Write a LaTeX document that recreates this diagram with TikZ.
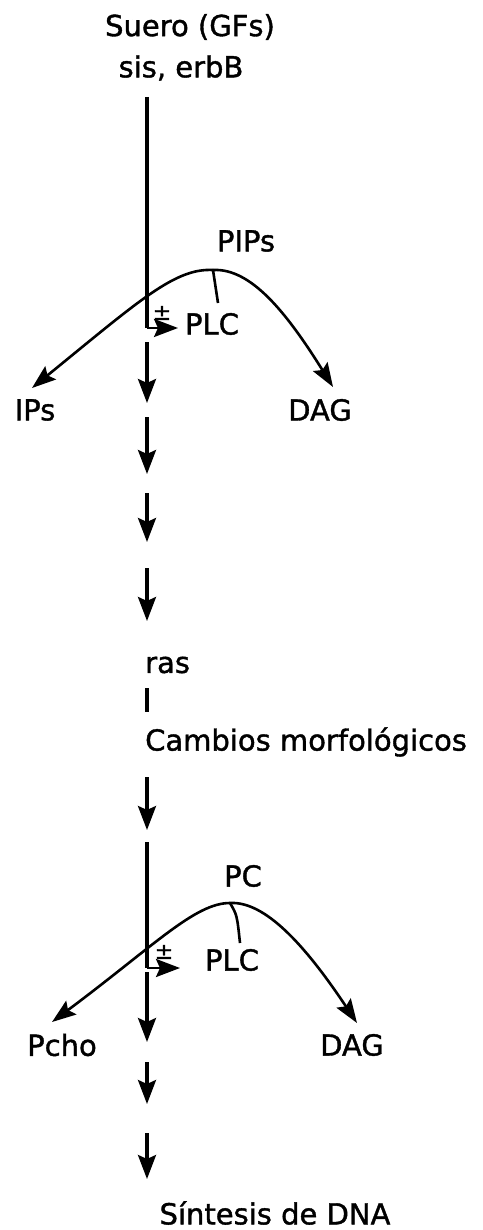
\documentclass[tikz,border=0pt]{standalone}
\usepackage{fontspec}
\setmainfont{DejaVu Sans}
\newfontfamily\heavy{DejaVu Sans}[FakeBold=1.3]
\usetikzlibrary{arrows.meta}
\begin{document}
\begin{tikzpicture}[x=1pt,y=-1pt,
  lbl/.style={inner sep=0pt,font=\heavy\fontsize{29}{34}\selectfont},
  sgn/.style={inner sep=0pt,font=\heavy\fontsize{22}{24}\selectfont},
  ln/.style={line width=3.2pt},
  arr/.style={line width=3.2pt,-{Stealth[length=24pt,width=18pt,inset=4pt]}},
  crv/.style={line width=2.6pt,-{Stealth[length=24pt,width=17pt,inset=4pt]}}]
\useasboundingbox (0,0) rectangle (482,1230);
% texts
\node[lbl] (suero) at (190,27) {Suero (GFs)};
\node[lbl] (sis) at (181,68) {sis, erbB};
\node[lbl] (pips) at (246,241) {PIPs};
\node[lbl] (plc1) at (212,324) {PLC};
\node[sgn] (pm1) at (162,313) {±};
\node[lbl] (ips) at (35,410) {IPs};
\node[lbl] (dag1) at (320,410) {DAG};
\node[lbl,anchor=west] (ras) at (145,665) {ras};
\node[lbl,anchor=west] (camb) at (145,742) {Cambios morfológicos};
\node[lbl] (pc) at (243,876) {PC};
\node[lbl] (plc2) at (232,960) {PLC};
\node[sgn] (pm2) at (164,952) {±};
\node[lbl] (pcho) at (62,1045) {Pcho};
\node[lbl] (dag2) at (352,1045) {DAG};
\node[lbl] (sint) at (275,1213) {Síntesis de DNA};
% coordinates
\coordinate (top1) at (147,97);
\coordinate (c1) at (147,328);
\coordinate (t1) at (178,328);
\coordinate (peak1) at (213,270);
\coordinate (tk1) at (218,303);
\coordinate (ipsT) at (32,388);
\coordinate (dagT1) at (333,387);
\coordinate (a1s) at (147,342); \coordinate (a1e) at (147,403);
\coordinate (a2s) at (147,417); \coordinate (a2e) at (147,474);
\coordinate (a3s) at (147,493); \coordinate (a3e) at (147,542);
\coordinate (a4s) at (147,568); \coordinate (a4e) at (147,621);
\coordinate (bar1) at (147,688); \coordinate (bar2) at (147,712);
\coordinate (a5s) at (147,777); \coordinate (a5e) at (147,830);
\coordinate (top2) at (147,842);
\coordinate (c2) at (147,968);
\coordinate (t2) at (180,968);
\coordinate (peak2) at (230,903);
\coordinate (tk2) at (240,943);
\coordinate (pchoT) at (52,1022);
\coordinate (dagT2) at (357,1023);
\coordinate (a6s) at (147,972); \coordinate (a6e) at (147,1042);
\coordinate (a7s) at (147,1062); \coordinate (a7e) at (147,1104);
\coordinate (a8s) at (147,1133); \coordinate (a8e) at (147,1179);
% first block
\draw[ln] (top1) -- (c1);
\draw[arr,line width=2.6pt] (c1) -- (t1);
\draw[crv] (peak1) .. controls (175,268) and (140,300) .. (ipsT);
\draw[crv] (peak1) .. controls (250,268) and (285,310) .. (dagT1);
\draw[line width=2.6pt] (peak1) -- (tk1);
\draw[arr] (a1s) -- (a1e);
\draw[arr] (a2s) -- (a2e);
\draw[arr] (a3s) -- (a3e);
\draw[arr] (a4s) -- (a4e);
\draw[ln] (bar1) -- (bar2);
\draw[arr] (a5s) -- (a5e);
% second block
\draw[ln] (top2) -- (c2);
\draw[arr,line width=2.6pt] (c2) -- (t2);
\draw[crv] (peak2) .. controls (195,903) and (155,945) .. (pchoT);
\draw[crv] (peak2) .. controls (265,901) and (305,945) .. (dagT2);
\draw[line width=2.6pt] (peak2) .. controls (237,915) .. (tk2);
\draw[arr] (a6s) -- (a6e);
\draw[arr] (a7s) -- (a7e);
\draw[arr] (a8s) -- (a8e);
\end{tikzpicture}
\end{document}
